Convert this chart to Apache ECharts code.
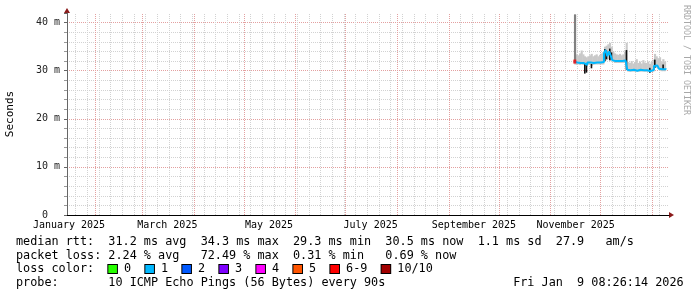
<!DOCTYPE html>
<html><head><meta charset="utf-8">
<script src="https://cdn.jsdelivr.net/npm/echarts@6/dist/echarts.min.js"></script>
<style>html,body{margin:0;padding:0;background:#fff}#c{width:697px;height:297px}</style>
</head><body><div id="c"></div>
<script>
// ---- data ----
const days = [
 '2025-11-15','2025-11-16','2025-11-17','2025-11-18','2025-11-19','2025-11-20','2025-11-21','2025-11-22',
 '2025-11-23','2025-11-24','2025-11-25','2025-11-26','2025-11-27','2025-11-28','2025-11-29','2025-11-30',
 '2025-12-01','2025-12-02','2025-12-03','2025-12-04','2025-12-05','2025-12-06','2025-12-07','2025-12-08',
 '2025-12-09','2025-12-10','2025-12-11','2025-12-12','2025-12-13','2025-12-14','2025-12-15','2025-12-16',
 '2025-12-17','2025-12-18','2025-12-19','2025-12-20','2025-12-21','2025-12-22','2025-12-23','2025-12-24',
 '2025-12-25','2025-12-26','2025-12-27','2025-12-28','2025-12-29','2025-12-30','2025-12-31','2026-01-01',
 '2026-01-02','2026-01-03','2026-01-04','2026-01-05','2026-01-06','2026-01-07','2026-01-08','2026-01-09'];
const medianRtt = [
 31.9,31.7,31.7,31.6,31.7,31.6,31.5,31.2, 31.7,31.7,31.4,31.6,31.7,31.7,31.7,31.7,
 31.7,31.8,33.6,34.3,33.0,34.0,33.2,32.2, 32.0,32.0,32.0,31.9,32.0,32.0,32.1,32.0,
 30.2,30.1,30.1,30.2,30.1,30.0,30.1,30.2, 30.1,30.1,30.0,30.1,30.0,29.9,30.1,30.2,
 31.0,31.1,30.9,30.4,30.3,30.2,30.3,30.5];
const smokeMin = [
 31.3,31.2,31.3,31.2,31.3,31.2,31.0,30.8, 31.3,31.3,31.0,31.2,31.3,31.3,31.3,31.3,
 31.3,31.3,32.0,32.2,32.4,32.0,32.2,31.8, 31.6,31.6,31.6,31.6,31.6,31.6,31.6,31.4,
 29.8,29.8,29.8,29.8,29.8,29.8,29.8,29.8, 29.8,29.8,29.8,29.8,29.8,29.5,29.8,29.8,
 30.6,30.6,30.4,30.0,29.9,29.9,29.9,29.9];
const smokeMax = [
 41.7,33.4,33.2,33.6,34.2,33.4,33.0,32.8, 33.0,33.2,33.5,33.0,33.2,33.4,33.0,33.3,
 33.6,33.9,35.0,35.2,35.5,35.8,35.0,34.0, 33.6,33.4,33.3,33.5,33.2,33.4,34.0,35.8,
 31.8,31.6,32.0,31.5,31.8,32.4,31.6,31.9, 31.5,32.2,31.7,31.6,31.9,31.4,31.8,32.3,
 33.5,33.0,32.6,32.8,31.8,32.4,31.9,31.8];
const lostPings = [
 7,1,1,1,1,1,1,1, 1,1,1,1,1,1,1,1, 1,1,1,1,1,1,1,1, 1,1,1,1,1,1,1,1,
 1,1,1,1,1,1,1,1, 1,1,1,1,1,1,1,1, 1,1,1,1,1,1,1,1];
// dense (dark) smoke ranges: [day, low, high]
const greySmoke = [['2025-11-15', 31.9, 41.7]];
const blackSmoke = [
 ['2025-11-21',29.4,31.5],['2025-11-22',29.6,31.2],['2025-11-25',30.5,31.4],
 ['2025-12-03',32.0,34.5],['2025-12-04',32.4,34.2],['2025-12-06',32.2,34.6],['2025-12-07',32.4,33.8],
 ['2025-12-16',30.2,34.3],['2025-12-30',29.6,30.6],['2026-01-02',30.6,32.3],['2026-01-07',30.3,31.3]];
// axis
const xRange = ['2025-01-14T19:12:00Z','2026-01-11T00:43:00Z'];
const xLabelDates = ['2025-01-16','2025-03-16','2025-05-16','2025-07-16','2025-09-16','2025-11-16'];
const xLabels = ['January 2025','March 2025','May 2025','July 2025','September 2025','November 2025'];
const yMax = 42;
const yTickLabels = {0:'0  ',10:'10 m',20:'20 m',30:'30 m',40:'40 m'};
// legend
const lossLabels = ['0','1','2','3','4','5','6-9','10/10'];
const lossColors = ['#26ff00','#00b8ff','#0059ff','#7e00ff','#ff00ff','#ff5500','#ff0000','#a10000'];
const statsLines = [
 'median rtt:  31.2 ms avg  34.3 ms max  29.3 ms min  30.5 ms now  1.1 ms sd  27.9   am/s',
 'packet loss: 2.24 % avg   72.49 % max  0.31 % min   0.69 % now',
 'probe:       10 ICMP Echo Pings (56 Bytes) every 90s                  Fri Jan  9 08:26:14 2026'];

// ---- build ----
const DAY = 86400000;
const FONT = '"DejaVu Sans Mono", monospace';
const T = days.map(d => Date.parse(d));
const xMin = Date.parse(xRange[0]), xMax = Date.parse(xRange[1]);
function lossColor(n){ const i = n<=5 ? n : (n<10 ? 6 : 7); return lossColors[i]; }

const bandData = [];
for (let i = 0; i < T.length - 1; i++) bandData.push([T[i], smokeMin[i], smokeMax[i], T[i+1]]);
const greyData = greySmoke.map(r => [Date.parse(r[0]), r[1], r[2], Date.parse(r[0]) + DAY]);
const blackData = blackSmoke.map(r => [Date.parse(r[0]) + DAY/2, r[1], r[2]]);
const medData = T.map((t,i) => [t, medianRtt[i]]);
const lossPts = [];
T.forEach((t,i) => { if (lostPings[i] !== 1) lossPts.push({value:[t + DAY/2, medianRtt[i]], itemStyle:{color: lossColor(lostPings[i])}}); });

// grid lines: Mondays (minor) and first of month (major)
const weekLines = [], monthLines = [];
for (let t = Date.parse('2025-01-20'); t < xMax; t += 7*DAY) weekLines.push({xAxis: t});
for (let m = 1; m <= 12; m++) { const t = Date.UTC(2025, m, 1); if (t < xMax) monthLines.push({xAxis: t}); }

function rangeRect(color){
  return function(params, api){
    const t = api.value(0), lo = api.value(1), hi = api.value(2), t2 = api.value(3);
    const a = api.coord([t, hi]), b = api.coord([t2, lo]);
    return {type:'rect', shape:{x:a[0], y:a[1], width:b[0]-a[0]+0.5, height:b[1]-a[1]}, style:{fill:color}};
  };
}
function vbar(color, w){
  return function(params, api){
    const t = api.value(0), lo = api.value(1), hi = api.value(2);
    const a = api.coord([t, hi]), b = api.coord([t, lo]);
    return {type:'rect', shape:{x:a[0]-w/2, y:a[1], width:w, height:b[1]-a[1]}, style:{fill:color}};
  };
}

const chart = echarts.init(document.getElementById('c'), null, {renderer:'canvas'});
const labelTimes = xLabelDates.map(d => Date.parse(d));
const option = {
  animation: false,
  backgroundColor: '#ffffff',
  grid: {left: 67, right: 28, top: 13, bottom: 82, containLabel: false, outerBoundsMode: 'none'},
  xAxis: [{
    type: 'value', min: xMin, max: xMax, scale: true,
    axisLine: {show: true, onZero: false, lineStyle: {color: '#000', width: 1}},
    axisTick: {show: false},
    splitLine: {show: false},
    axisLabel: {
      customValues: labelTimes, hideOverlap: false, margin: 5,
      fontFamily: FONT, fontSize: 10, color: '#000',
      formatter: v => { const i = labelTimes.indexOf(v); return i >= 0 ? xLabels[i] : ''; }
    }
  }],
  yAxis: [{
    type: 'value', min: 0, max: yMax, interval: 2, position: 'left',
    axisLine: {show: false}, axisLabel: {show: false},
    axisTick: {show: true, length: 3, lineStyle: {color: '#999'}},
    splitLine: {show: true, showMinLine: false, showMaxLine: false, lineStyle: {color: '#d2d2d2', type: [1,1], width: 1}}
  }, {
    type: 'value', min: 0, max: yMax, interval: 10, position: 'left',
    axisLine: {show: true, onZero: false, lineStyle: {color: '#666', width: 1}},
    axisTick: {show: true, length: 3, lineStyle: {color: '#666'}},
    axisLabel: {margin: 7, fontFamily: FONT, fontSize: 10, color: '#222',
      formatter: v => (yTickLabels[v] !== undefined ? yTickLabels[v] : '')},
    splitLine: {show: true, showMinLine: false, showMaxLine: false, lineStyle: {color: '#e3a0a0', type: [1,1], width: 1}},
    name: 'Seconds', nameLocation: 'middle', nameRotate: 90, nameGap: 51,
    nameTextStyle: {fontFamily: FONT, fontSize: 11, color: '#000'}
  }],
  series: [
    {type:'line', data:[], silent:true, z:1,
     markLine:{silent:true, symbol:['none','none'], label:{show:false}, z:1, animation:false,
       lineStyle:{color:'#d2d2d2', type:[1,1], width:1}, emphasis:{disabled:true}, data: weekLines}},
    {type:'line', data:[], silent:true, z:1,
     markLine:{silent:true, symbol:['none','none'], label:{show:false}, z:1, animation:false,
       lineStyle:{color:'#e3a0a0', type:[1,1], width:1}, emphasis:{disabled:true}, data: monthLines}},
    {type:'custom', name:'smoke', z:2, silent:true, renderItem: rangeRect('#c9c9c9'), data: bandData,
     encode:{x:[0,3], y:[1,2]}},
    {type:'custom', name:'dense', z:3, silent:true, renderItem: rangeRect('#808080'), data: greyData,
     encode:{x:[0,3], y:[1,2]}},
    {type:'custom', name:'black', z:3, silent:true, renderItem: vbar('#111', 1.6), data: blackData,
     encode:{x:0, y:[1,2]}},
    {type:'line', name:'median', z:4, step:'end', showSymbol:false, silent:true, data: medData,
     lineStyle:{color: lossColors[1], width: 2}, itemStyle:{color: lossColors[1]}},
    {type:'scatter', name:'loss', z:5, silent:true, symbol:'rect', symbolSize:[3,4], data: lossPts}
  ]
};
chart.setOption(option);

// decorations: arrows, credit, legend text
const xr = chart.convertToPixel({xAxisIndex:0}, xMax);
const xl = chart.convertToPixel({xAxisIndex:0}, xMin);
const y0 = chart.convertToPixel({yAxisIndex:1}, 0);
const yt = chart.convertToPixel({yAxisIndex:1}, yMax);
const ARROW = '#8b1a1a';
let rich = {};
let lossText = 'loss color:  ';
lossLabels.forEach((l, i) => {
  rich['b'+i] = {width: 8.6, height: 8, backgroundColor: lossColors[i], borderColor: '#000', borderWidth: 1};
  lossText += '{b'+i+'| } ' + l + (i < lossLabels.length-1 ? '  ' : '');
});
const txt = (s, y) => ({type:'text', x:16, y:y, silent:true,
  style:{text:s, font:'11.8px ' + FONT, fill:'#000', verticalAlign:'middle', align:'left'}});
chart.setOption({graphic: [
  {type:'polygon', silent:true, shape:{points:[[xr, y0-3],[xr+5, y0],[xr, y0+3]]}, style:{fill:ARROW}},
  {type:'polygon', silent:true, shape:{points:[[xl-3, yt],[xl, yt-5],[xl+3, yt]]}, style:{fill:ARROW}},
  {type:'text', x:686, y:60, rotation:-Math.PI/2, silent:true,
   style:{text:'RRDTOOL / TOBI OETIKER', font:'8.3px ' + FONT, fill:'#a8a8a8', align:'center', verticalAlign:'middle'}},
  txt(statsLines[0], 241.5),
  txt(statsLines[1], 255.5),
  {type:'text', x:16, y:269, silent:true,
   style:{text: lossText, font:'11.8px ' + FONT, fill:'#000', verticalAlign:'middle', align:'left', rich: rich}},
  txt(statsLines[2], 283)
]});
</script></body></html>
